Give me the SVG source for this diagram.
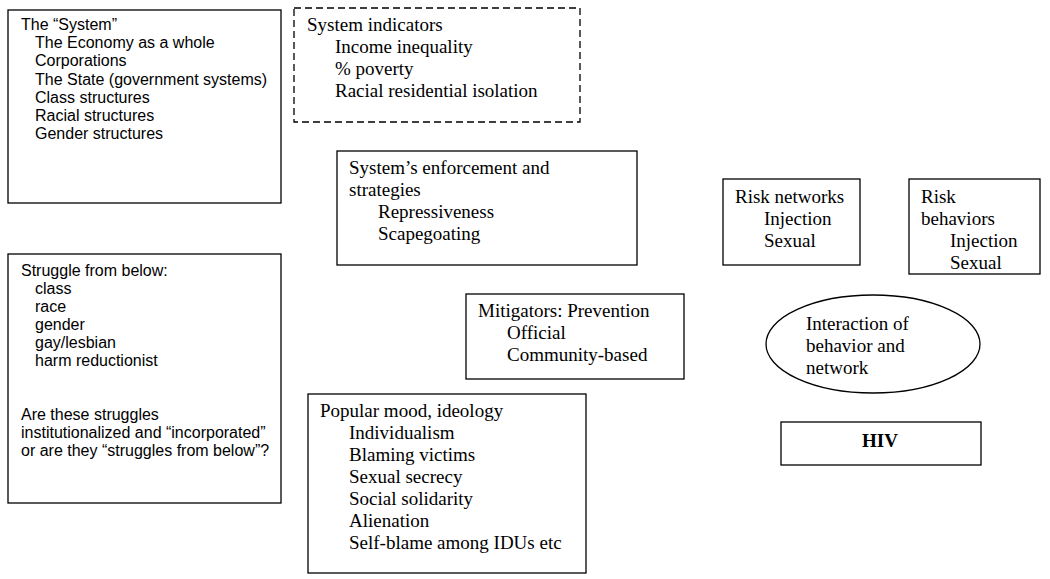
<svg xmlns="http://www.w3.org/2000/svg" width="1050" height="579" viewBox="0 0 1050 579">
<style>
.box{fill:#fff;stroke:#000;stroke-width:1.3}
.dash{fill:#fff;stroke:#000;stroke-width:1.3;stroke-dasharray:7,4}
.s{font-family:"Liberation Sans",Arial,sans-serif;font-size:16px;fill:#000}
.t{font-family:"Liberation Serif","Times New Roman",serif;font-size:19px;fill:#000}
.b{font-weight:bold}
</style>
<rect width="1050" height="579" fill="#fff"/>
<g id="connectors"></g>
<g id="system">
<rect class="box" x="8" y="10" width="273" height="193"/>
<text class="s" x="21" y="30">The “System”</text>
<text class="s" x="35" y="48">The Economy as a whole</text>
<text class="s" x="35" y="66">Corporations</text>
<text class="s" x="35" y="85">The State (government systems)</text>
<text class="s" x="35" y="103">Class structures</text>
<text class="s" x="35" y="121">Racial structures</text>
<text class="s" x="35" y="139">Gender structures</text>
</g>
<g id="indicators">
<rect class="dash" x="294" y="8" width="286" height="114"/>
<text class="t" x="307" y="31">System indicators</text>
<text class="t" x="335" y="53">Income inequality</text>
<text class="t" x="335" y="75">% poverty</text>
<text class="t" x="335" y="97">Racial residential isolation</text>
</g>
<g id="enforcement">
<rect class="box" x="337" y="151" width="300" height="114"/>
<text class="t" x="349" y="174">System’s enforcement and</text>
<text class="t" x="349" y="196">strategies</text>
<text class="t" x="378" y="218">Repressiveness</text>
<text class="t" x="378" y="240">Scapegoating</text>
</g>
<g id="struggle">
<rect class="box" x="8" y="254" width="273" height="249"/>
<text class="s" x="21" y="276">Struggle from below:</text>
<text class="s" x="35" y="294">class</text>
<text class="s" x="35" y="312">race</text>
<text class="s" x="35" y="330">gender</text>
<text class="s" x="35" y="348">gay/lesbian</text>
<text class="s" x="35" y="366">harm reductionist</text>
<text class="s" x="21" y="420">Are these struggles</text>
<text class="s" x="21" y="438">institutionalized and “incorporated”</text>
<text class="s" x="21" y="456">or are they “struggles from below”?</text>
</g>
<g id="mitigators">
<rect class="box" x="466" y="294" width="218" height="85"/>
<text class="t" x="478" y="317">Mitigators: Prevention</text>
<text class="t" x="507" y="339">Official</text>
<text class="t" x="507" y="361">Community-based</text>
</g>
<g id="popular">
<rect class="box" x="308" y="394" width="278" height="179"/>
<text class="t" x="320" y="417">Popular mood, ideology</text>
<text class="t" x="349" y="439">Individualism</text>
<text class="t" x="349" y="461">Blaming victims</text>
<text class="t" x="349" y="483">Sexual secrecy</text>
<text class="t" x="349" y="505">Social solidarity</text>
<text class="t" x="349" y="527">Alienation</text>
<text class="t" x="349" y="549">Self-blame among IDUs etc</text>
</g>
<g id="networks">
<rect class="box" x="723" y="179" width="137" height="86"/>
<text class="t" x="735" y="203">Risk networks</text>
<text class="t" x="764" y="225">Injection</text>
<text class="t" x="764" y="247">Sexual</text>
</g>
<g id="behaviors">
<rect class="box" x="909" y="179" width="131" height="95"/>
<text class="t" x="921" y="203">Risk</text>
<text class="t" x="921" y="225">behaviors</text>
<text class="t" x="950" y="247">Injection</text>
<text class="t" x="950" y="269">Sexual</text>
</g>
<g id="interaction">
<ellipse class="box" cx="873" cy="344" rx="107" ry="49"/>
<text class="t" x="806" y="330">Interaction of</text>
<text class="t" x="806" y="352">behavior and</text>
<text class="t" x="806" y="374">network</text>
</g>
<g id="hiv">
<rect class="box" x="781" y="422" width="200" height="43"/>
<text class="t b" x="880" y="447" text-anchor="middle">HIV</text>
</g>
</svg>
